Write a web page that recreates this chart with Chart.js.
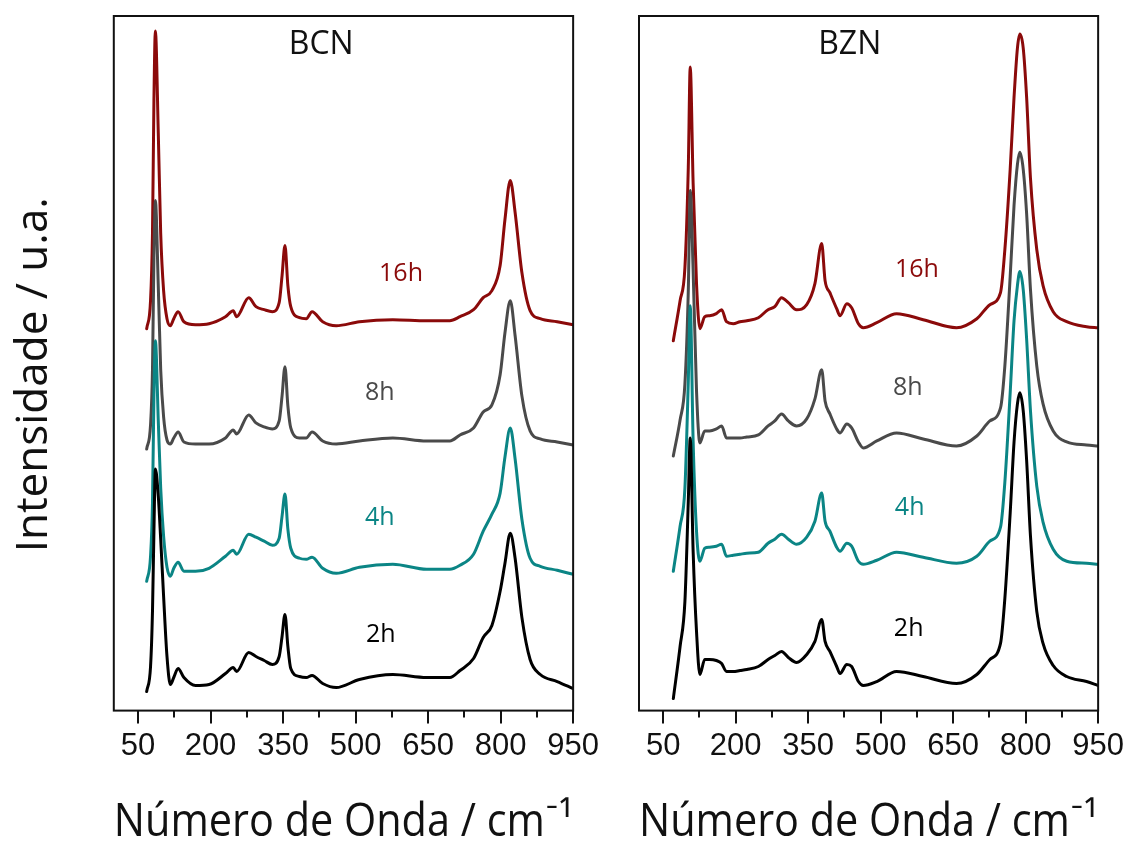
<!DOCTYPE html>
<html>
<head>
<meta charset="utf-8">
<script src="https://cdn.jsdelivr.net/npm/chart.js@4.4.1/dist/chart.umd.min.js"></script>
<style>
  html, body { margin: 0; padding: 0; background: #fff; }
  #wrap { position: relative; width: 1126px; height: 846px; overflow: hidden; }
  .panel { position: absolute; top: 0; }
</style>
</head>
<body>
<div id="wrap">
  <div class="panel" style="left:0;width:603px;height:854px"><canvas id="bcn" width="603" height="854"></canvas></div>
  <div class="panel" style="left:600px;width:528px;height:854px"><canvas id="bzn" width="528" height="854"></canvas></div>
</div>
<script>
// Raman spectra (stacked, arbitrary units) of BCN and BZN after 2, 4, 8 and 16 h

const seriesNames = ['2h', '4h', '8h', '16h'];
const xTickValues = [50, 200, 350, 500, 650, 800, 950];
const xMinorTicks = [125, 275, 425, 575, 725, 875];

// BCN
const bcnWavenumber = [68,76,80,83,86,92,97,103,110,117,124,133,145,169,197,231,247,254,279,294,311,328,342,348,354,360,366,384,398,410,432,460,508,577,647,695,716,744,764,782,799,809,820,830,844,861,882,917,950];
const bcn2h  = [19,44,99,179,241,214,171,114,54,26,33,42,33,25,26,37,43,39,58,54,50,46,54,74,96,64,42,34,33,35,27,23,31,36,33,33,40,52,73,85,119,147,177,152,93,51,36,29,22];
const bcn4h  = [129,154,207,315,369,289,222,174,143,134,142,148,139,139,142,154,160,156,176,173,169,165,172,194,216,181,162,152,151,153,142,137,143,146,141,141,145,156,179,196,217,253,282,251,191,152,144,140,136];
const bcn8h  = [261,285,340,453,509,423,340,293,270,266,272,278,268,266,266,272,280,276,295,287,283,281,289,314,343,304,282,272,272,278,269,266,269,272,269,269,275,282,298,305,335,377,409,374,314,279,271,268,265];
const bcn16h = [381,409,476,609,678,576,476,419,391,384,391,398,388,385,386,393,399,393,412,403,400,398,407,434,464,424,403,392,391,398,388,384,388,390,389,389,393,400,412,419,444,490,529,497,437,399,391,388,385];

// BZN
const bznWavenumber = [71,85,95,102,106,112,119,126,136,146,160,171,181,195,209,223,247,267,281,295,309,326,347,364,378,385,395,409,416,430,440,454,464,492,533,588,657,699,726,748,757,768,776,783,788,795,802,810,823,836,857,885,926,950];
const bzn2h  = [12,64,109,209,272,159,79,36,51,51,50,47,39,39,40,41,44,51,55,59,53,48,56,69,91,69,59,44,37,46,44,29,25,29,39,34,27,36,51,67,112,197,268,306,317,299,250,174,99,67,45,34,29,25];
const bzn4h  = [139,184,222,329,404,269,179,149,162,163,164,166,154,155,156,157,158,167,171,176,171,166,173,189,217,189,179,163,159,167,164,149,146,150,158,153,147,154,169,183,228,317,389,424,438,420,371,299,224,188,161,149,147,146];
const bzn8h  = [254,290,326,419,519,439,319,267,279,279,281,284,272,272,272,273,275,284,289,296,289,284,291,311,340,309,296,281,277,286,282,268,262,269,277,271,264,274,289,302,344,433,504,545,557,540,496,420,344,306,279,268,265,264];
const bzn16h = [369,409,442,542,642,526,426,381,393,394,396,400,388,386,388,389,392,400,403,412,407,400,405,426,466,429,417,401,394,406,402,386,382,387,396,390,382,391,405,417,460,540,612,661,675,661,612,531,460,424,398,388,383,382];

// Label anchors in data coordinates
const bcnLabelX = [552, 550, 550, 594];
const bcnLabelY = [76, 192, 317, 436];
const bznLabelX = [558, 560, 556, 575];
const bznLabelY = [82, 202, 322, 440];

const colors = ['#000000', '#0b8585', '#4a4a4a', '#8b0a0a'];
const textFont = '"Open Sans", Lato, sans-serif';

const framePlugin = {
  id: 'frame',
  afterDraw(chart, args, opts) {
    const { ctx, chartArea: a, scales: { x } } = chart;
    ctx.save();
    ctx.strokeStyle = '#111';
    ctx.lineWidth = 2;
    ctx.strokeRect(a.left, a.top, a.right - a.left, a.bottom - a.top);
    ctx.beginPath();
    for (const v of opts.minor) {
      const px = Math.round(x.getPixelForValue(v));
      ctx.moveTo(px, a.bottom);
      ctx.lineTo(px, a.bottom + opts.minorLength);
    }
    ctx.stroke();
    ctx.restore();
  }
};

const textPlugin = {
  id: 'spectraText',
  afterDatasetsDraw(chart, args, opts) {
    const { ctx, scales: { x, y } } = chart;
    ctx.save();
    ctx.textAlign = 'center';
    ctx.textBaseline = 'middle';
    for (const t of opts.items) {
      ctx.font = t.font;
      ctx.fillStyle = t.color;
      ctx.fillText(t.text, x.getPixelForValue(t.x), y.getPixelForValue(t.y));
    }
    ctx.restore();
  }
};

function buildChart(canvasId, title, titleX, wavenumber, series, labelX, labelY, withYTitle, padding) {
  const datasets = series.map((vals, i) => ({
    label: seriesNames[i],
    data: wavenumber.map((w, k) => ({ x: w, y: vals[k] })),
    borderColor: colors[i],
    borderWidth: 3,
    pointRadius: 0,
    fill: false,
    cubicInterpolationMode: 'monotone',
    borderJoinStyle: 'round',
    borderCapStyle: 'round'
  }));
  const items = [{ text: title, x: titleX, y: 664, color: '#111', font: '32px ' + textFont }];
  seriesNames.forEach((n, i) => items.push({ text: n, x: labelX[i], y: labelY[i], color: colors[i], font: '25px ' + textFont }));

  return new Chart(document.getElementById(canvasId), {
    type: 'line',
    data: { datasets },
    options: {
      responsive: false,
      animation: false,
      layout: { padding },
      plugins: {
        legend: { display: false },
        tooltip: { enabled: false },
        frame: { minor: xMinorTicks, minorLength: 7 },
        spectraText: { items }
      },
      scales: {
        x: {
          type: 'linear',
          min: 0,
          max: 950,
          afterBuildTicks: (scale) => { scale.ticks = xTickValues.map(v => ({ value: v })); },
          ticks: {
            color: '#111',
            font: { family: '"Liberation Sans", Arial, sans-serif', size: 31 },
            padding: 4,
            maxRotation: 0,
            autoSkip: false
          },
          grid: { drawOnChartArea: false, drawTicks: true, tickLength: 13, lineWidth: 2, color: '#111' },
          border: { display: false },
          title: {
            display: true,
            text: 'Número de Onda / cm⁻¹',
            color: '#111',
            font: { family: textFont, size: 46 },
            padding: { top: 26, bottom: 4 }
          }
        },
        y: {
          min: 0,
          max: 693,
          display: withYTitle,
          ticks: { display: false },
          grid: { display: false, drawTicks: false },
          border: { display: false },
          title: {
            display: withYTitle,
            text: 'Intensidade / u.a.  ',
            color: '#111',
            font: { family: textFont, size: 44 },
            padding: { top: 4, bottom: 53 }
          }
        }
      }
    },
    plugins: [framePlugin, textPlugin]
  });
}

buildChart('bcn', 'BCN', 429, bcnWavenumber, [bcn2h, bcn4h, bcn8h, bcn16h], bcnLabelX, bcnLabelY, true,
  { left: 4, right: 27, top: 16, bottom: 0 });
buildChart('bzn', 'BZN', 436, bznWavenumber, [bzn2h, bzn4h, bzn8h, bzn16h], bznLabelX, bznLabelY, false,
  { left: 39, right: 28, top: 16, bottom: 0 });
</script>
</body>
</html>
